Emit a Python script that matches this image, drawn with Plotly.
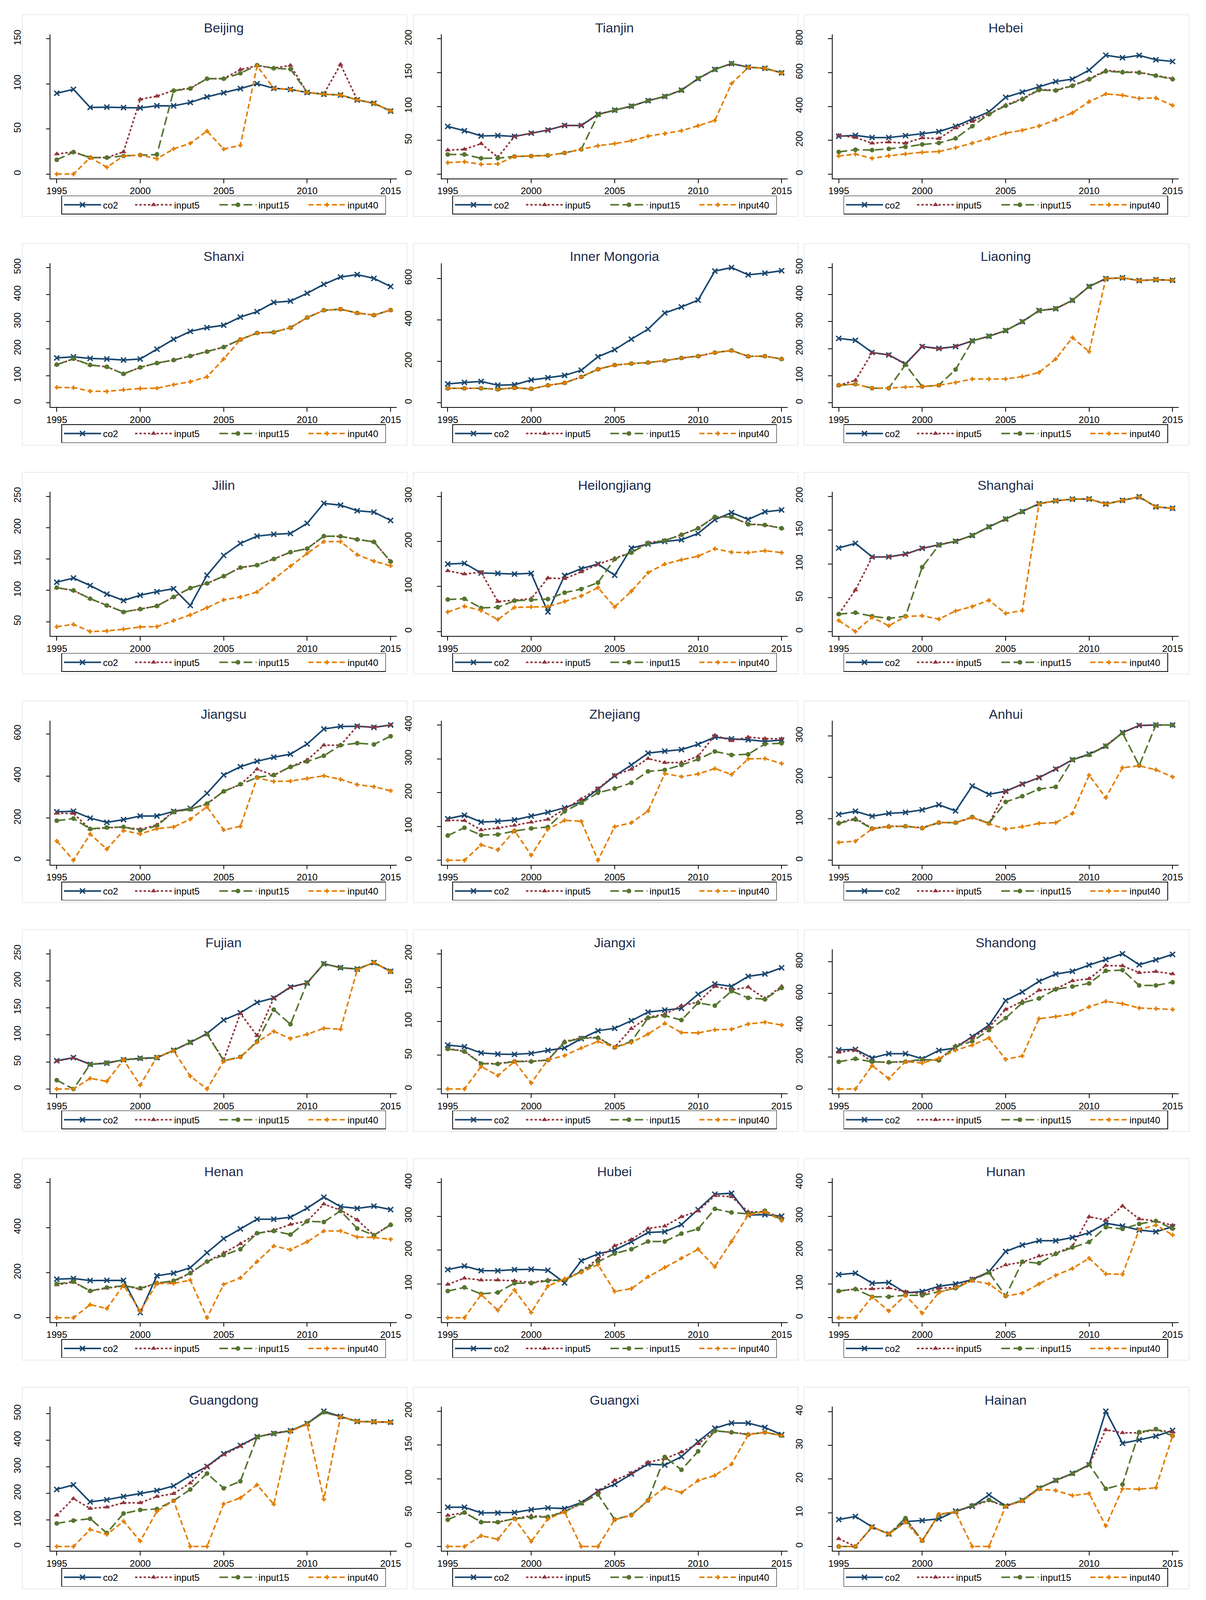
import plotly.graph_objects as go

YEARS = list(range(1995, 2016))
XTICKS = [1995, 2000, 2005, 2010, 2015]

PROVINCES = ["Beijing", "Tianjin", "Hebei", "Shanxi", "Inner Mongoria", "Liaoning",
             "Jilin", "Heilongjiang", "Shanghai", "Jiangsu", "Zhejiang", "Anhui",
             "Fujian", "Jiangxi", "Shandong", "Henan", "Hubei", "Hunan",
             "Guangdong", "Guangxi", "Hainan"]

YTICKS = {
    "Beijing": [0, 50, 100, 150], "Tianjin": [0, 50, 100, 150, 200],
    "Hebei": [0, 200, 400, 600, 800], "Shanxi": [0, 100, 200, 300, 400, 500],
    "Inner Mongoria": [0, 200, 400, 600], "Liaoning": [0, 100, 200, 300, 400, 500],
    "Jilin": [50, 100, 150, 200, 250], "Heilongjiang": [0, 100, 200, 300],
    "Shanghai": [0, 50, 100, 150, 200], "Jiangsu": [0, 200, 400, 600],
    "Zhejiang": [0, 100, 200, 300, 400], "Anhui": [0, 100, 200, 300],
    "Fujian": [0, 50, 100, 150, 200, 250], "Jiangxi": [0, 50, 100, 150, 200],
    "Shandong": [0, 200, 400, 600, 800], "Henan": [0, 200, 400, 600],
    "Hubei": [0, 100, 200, 300, 400], "Hunan": [0, 100, 200, 300, 400],
    "Guangdong": [0, 100, 200, 300, 400, 500], "Guangxi": [0, 50, 100, 150, 200],
    "Hainan": [0, 10, 20, 30, 40],
}

CO2 = {
    "Beijing": [89.6, 94.0, 73.9, 74.2, 73.7, 73.4, 75.8, 75.6, 79.4, 85.6, 90.2, 94.8, 100.2, 95.1, 93.9, 90.5, 88.5, 87.7, 82.3, 78.5, 69.8],
    "Tianjin": [70.4, 64.1, 56.4, 56.9, 55.6, 60.5, 65.1, 71.9, 71.9, 88.4, 94.5, 100.4, 108.5, 114.8, 124.1, 141.2, 154.8, 163.4, 158.1, 156.4, 149.7],
    "Hebei": [224, 229, 216, 216, 227, 238, 251, 283, 326, 368, 454, 485, 517, 547, 562, 615, 703, 688, 702, 676, 666],
    "Shanxi": [166, 170, 164, 162, 158, 162, 198, 235, 264, 278, 287, 317, 337, 371, 376, 405, 438, 465, 474, 460, 430],
    "Inner Mongoria": [91, 98, 103, 85, 87, 110, 121, 132, 157, 222, 256, 307, 355, 433, 462, 495, 635, 652, 617, 625, 637],
    "Liaoning": [238, 231, 186, 177, 144, 208, 201, 208, 229, 246, 267, 300, 341, 348, 379, 430, 459, 462, 452, 455, 453],
    "Jilin": [113.0, 119.6, 107.7, 94.0, 83.8, 92.2, 97.9, 102.7, 75.8, 124.1, 155.7, 175.0, 186.4, 189.4, 190.7, 206.9, 238.8, 235.9, 227.0, 224.7, 211.5],
    "Heilongjiang": [149.7, 151.3, 130.0, 129.1, 127.5, 129.1, 43.5, 124.3, 139.5, 149.7, 125.0, 185.2, 194.1, 199.8, 203.6, 217.6, 248.0, 263.9, 248.7, 265.5, 269.6],
    "Shanghai": [123.5, 130.4, 110.4, 110.4, 114.6, 123.0, 128.3, 133.6, 142.1, 154.8, 166.4, 177.4, 189.0, 193.4, 195.8, 196.0, 188.6, 193.9, 199.2, 184.4, 182.2],
    "Jiangsu": [230, 233, 200, 180, 193, 210, 210, 232, 246, 318, 405, 444, 470, 489, 504, 552, 623, 635, 636, 631, 642],
    "Zhejiang": [122.8, 133.3, 113.1, 115.2, 119.4, 130.8, 141.8, 155.3, 173.0, 210.1, 249.4, 281.9, 316.9, 322.8, 327.4, 343.0, 364.1, 359.1, 356.5, 351.5, 355.7],
    "Anhui": [110.7, 118.3, 106.2, 113.1, 115.5, 121.7, 133.8, 119.0, 179.3, 159.0, 166.6, 183.8, 199.3, 220.0, 242.4, 256.2, 275.2, 307.9, 325.2, 326.2, 326.2],
    "Fujian": [52.2, 58.0, 45.6, 47.7, 54.0, 56.7, 58.0, 71.5, 86.3, 102.5, 127.6, 140.9, 160.0, 168.4, 188.6, 196.0, 231.5, 224.3, 221.7, 233.6, 217.7],
    "Jiangxi": [65.0, 62.4, 53.3, 51.6, 51.2, 52.7, 57.1, 60.7, 74.5, 86.2, 89.8, 101.0, 113.7, 116.8, 119.4, 140.1, 155.3, 151.7, 166.6, 170.2, 179.3],
    "Shandong": [246, 249, 195, 222, 222, 190, 242, 258, 330, 401, 556, 610, 677, 722, 740, 779, 814, 850, 781, 812, 846],
    "Henan": [171, 174, 165, 166, 166, 23, 186, 198, 222, 289, 351, 394, 437, 437, 446, 486, 535, 493, 485, 495, 480],
    "Hubei": [142.3, 152.9, 139.4, 139.0, 142.3, 143.2, 140.2, 103.1, 168.5, 188.8, 200.2, 224.7, 252.2, 254.3, 275.4, 319.7, 365.4, 368.3, 303.7, 304.9, 300.7],
    "Hunan": [127.6, 131.8, 102.2, 104.3, 73.5, 77.7, 92.9, 100.1, 112.8, 136.0, 196.0, 215.0, 227.7, 227.7, 237.4, 251.3, 279.6, 271.2, 259.3, 254.3, 269.1],
    "Guangdong": [214.8, 231.9, 167.9, 175.9, 188.2, 199.9, 210.6, 228.1, 267.1, 301.2, 349.1, 380.1, 413.1, 425.4, 436.0, 462.7, 509.1, 489.3, 470.7, 469.6, 468.0],
    "Guangxi": [58.0, 58.0, 49.7, 49.7, 50.2, 54.4, 57.1, 56.1, 64.9, 81.8, 91.9, 107.1, 121.8, 120.4, 132.8, 155.1, 174.9, 182.5, 182.5, 176.0, 165.4],
    "Hainan": [8.0, 8.9, 5.8, 3.7, 7.4, 7.7, 8.2, 10.5, 11.9, 15.3, 12.0, 13.7, 17.3, 19.6, 21.7, 24.2, 40.1, 30.6, 31.6, 32.7, 34.4],
}

INPUT5 = {
    "Beijing": [22.2, 24.6, 18.4, 18.4, 24.6, 82.9, 86.4, 92.8, 95.3, 105.8, 105.9, 115.9, 120.2, 117.6, 120.5, 90.5, 88.9, 121.6, 82.3, 78.5, 70.2],
    "Tianjin": [35.5, 36.6, 45.0, 24.9, 55.6, 60.5, 65.1, 71.9, 71.9, 88.4, 94.5, 100.4, 108.5, 114.8, 124.1, 141.2, 154.8, 163.4, 158.1, 156.4, 149.7],
    "Hebei": [229, 216, 183, 189, 183, 214, 210, 273, 311, 356, 408, 446, 501, 496, 524, 563, 613, 605, 602, 583, 565],
    "Shanxi": [141, 162, 140, 133, 107, 131, 147, 158, 173, 189, 206, 234, 258, 261, 278, 315, 342, 346, 332, 324, 343],
    "Inner Mongoria": [70, 70, 70, 65, 72, 67, 84, 96, 125, 162, 182, 189, 194, 203, 216, 225, 242, 252, 224, 225, 211],
    "Liaoning": [65, 83, 185, 177, 142, 208, 199, 208, 229, 246, 267, 300, 341, 348, 379, 430, 459, 462, 452, 455, 453],
    "Jilin": [104.3, 99.8, 86.7, 75.8, 65.5, 70.1, 75.1, 89.5, 103.6, 111.1, 122.6, 136.3, 140.2, 150.0, 160.9, 166.6, 186.4, 186.2, 181.2, 177.3, 145.9],
    "Heilongjiang": [134.8, 127.5, 131.6, 66.6, 69.5, 72.9, 118.6, 117.3, 132.3, 149.1, 162.4, 175.7, 197.3, 202.0, 214.7, 229.0, 254.4, 254.4, 238.5, 236.3, 229.6],
    "Shanghai": [25.8, 61.3, 109.9, 110.4, 114.0, 123.0, 128.3, 133.6, 142.1, 154.8, 166.4, 177.4, 189.0, 193.4, 195.8, 196.0, 188.6, 193.9, 199.2, 184.4, 182.2],
    "Jiangsu": [223, 222, 148, 154, 158, 147, 168, 232, 243, 267, 328, 359, 432, 403, 445, 476, 546, 546, 637, 631, 642],
    "Zhejiang": [118.6, 117.3, 89.9, 95.4, 103.4, 112.7, 120.7, 151.1, 180.6, 212.2, 251.5, 269.2, 300.8, 289.0, 289.0, 308.0, 369.6, 353.6, 364.1, 359.9, 359.1],
    "Anhui": [90.7, 101.0, 76.9, 82.1, 82.1, 78.6, 91.4, 90.7, 102.8, 89.0, 165.9, 183.8, 199.3, 220.0, 242.4, 254.5, 276.9, 307.9, 325.2, 326.2, 326.2],
    "Fujian": [51.4, 57.5, 45.6, 48.7, 54.0, 56.1, 57.5, 71.5, 86.3, 101.7, 53.5, 139.6, 98.5, 167.9, 187.8, 196.0, 231.5, 224.3, 221.7, 233.6, 217.7],
    "Jiangxi": [59.7, 55.9, 37.9, 37.5, 41.1, 41.1, 42.8, 70.3, 75.6, 76.2, 61.8, 89.3, 106.2, 110.5, 123.2, 128.5, 151.7, 146.5, 150.7, 133.8, 151.7],
    "Shandong": [231, 244, 172, 168, 172, 183, 183, 271, 321, 388, 500, 551, 621, 630, 680, 693, 776, 774, 731, 738, 723],
    "Henan": [146, 158, 119, 131, 141, 128, 155, 160, 198, 249, 287, 328, 375, 388, 414, 429, 504, 477, 434, 366, 414],
    "Hubei": [98.8, 117.0, 111.5, 111.5, 109.4, 104.3, 111.5, 111.5, 138.1, 174.0, 212.9, 231.0, 264.0, 271.2, 298.6, 315.5, 361.1, 357.8, 313.4, 313.4, 296.5],
    "Hunan": [79.0, 85.3, 85.3, 88.3, 76.9, 70.5, 87.4, 89.5, 114.9, 134.7, 156.3, 164.3, 182.5, 190.9, 211.2, 298.6, 288.9, 330.3, 292.3, 286.0, 273.3],
    "Guangdong": [117.8, 180.2, 142.9, 148.2, 164.2, 164.2, 188.2, 198.8, 238.8, 300.1, 345.4, 377.4, 412.0, 427.0, 436.0, 461.6, 506.4, 488.3, 470.7, 469.1, 468.0],
    "Guangxi": [45.9, 50.2, 36.5, 36.0, 41.1, 45.3, 43.8, 52.3, 62.8, 81.8, 97.6, 108.5, 124.6, 129.8, 139.7, 151.9, 171.3, 168.8, 166.1, 168.8, 164.0],
    "Hainan": [2.3, 0.0, 5.8, 3.7, 8.1, 1.7, 9.5, 10.3, 12.0, 13.6, 11.9, 13.6, 17.3, 19.6, 21.5, 24.2, 34.6, 33.7, 33.7, 34.6, 33.9],
}

INPUT15 = {
    "Beijing": [15.9, 24.3, 18.2, 18.2, 20.1, 21.1, 21.7, 92.4, 94.8, 105.8, 105.8, 111.8, 120.7, 117.3, 116.4, 90.5, 88.5, 87.7, 82.3, 78.5, 69.9],
    "Tianjin": [29.0, 29.0, 23.3, 23.5, 26.0, 26.6, 27.5, 31.3, 36.6, 87.7, 94.5, 100.4, 108.5, 114.8, 124.1, 141.2, 154.8, 163.4, 158.1, 156.4, 149.7],
    "Hebei": [131, 144, 142, 149, 161, 175, 184, 211, 283, 354, 404, 442, 497, 494, 522, 560, 608, 602, 600, 582, 561],
    "Shanxi": [141, 163, 140, 133, 107, 131, 147, 158, 173, 189, 206, 234, 258, 261, 278, 315, 342, 346, 332, 324, 343],
    "Inner Mongoria": [70, 70, 70, 65, 72, 67, 84, 96, 125, 162, 182, 189, 194, 203, 216, 225, 242, 252, 224, 225, 211],
    "Liaoning": [65, 69, 54, 54, 141, 60, 65, 123, 229, 246, 267, 300, 341, 348, 379, 430, 459, 462, 452, 455, 453],
    "Jilin": [104.3, 99.8, 86.7, 75.8, 65.5, 70.1, 75.1, 89.5, 103.6, 111.1, 122.6, 136.3, 140.2, 150.0, 160.9, 166.6, 186.4, 186.2, 181.2, 177.3, 145.9],
    "Heilongjiang": [71.0, 72.6, 52.3, 53.9, 68.2, 70.4, 72.0, 86.3, 94.2, 108.5, 160.8, 175.1, 195.7, 201.7, 214.7, 229.0, 254.4, 254.4, 237.9, 236.3, 229.0],
    "Shanghai": [25.8, 27.9, 22.6, 19.5, 22.6, 95.1, 127.7, 133.6, 142.1, 154.8, 166.4, 177.4, 189.0, 193.4, 195.8, 196.0, 188.6, 193.9, 199.2, 184.4, 182.2],
    "Jiangsu": [188, 198, 149, 156, 158, 141, 164, 229, 242, 269, 327, 361, 393, 405, 443, 469, 496, 546, 556, 550, 589],
    "Zhejiang": [73.0, 96.2, 74.3, 75.9, 86.5, 94.1, 98.3, 144.7, 170.0, 199.6, 212.2, 229.1, 262.9, 267.1, 281.9, 298.7, 321.9, 311.4, 313.5, 343.9, 346.0],
    "Anhui": [89.0, 98.6, 76.2, 81.0, 82.1, 77.6, 90.7, 90.7, 104.5, 89.0, 140.7, 154.5, 171.7, 176.9, 242.4, 254.5, 275.2, 307.2, 228.6, 326.2, 326.2],
    "Fujian": [16.4, 0.0, 45.6, 48.2, 54.0, 56.7, 57.5, 71.5, 86.3, 101.7, 52.2, 59.3, 87.9, 146.7, 119.7, 196.5, 231.5, 224.3, 221.7, 233.6, 217.7],
    "Jiangxi": [59.3, 55.4, 37.5, 37.0, 40.6, 40.6, 42.8, 69.2, 75.1, 75.6, 61.4, 70.3, 105.2, 108.4, 102.0, 127.4, 123.2, 144.8, 134.8, 132.7, 149.6],
    "Shandong": [171, 190, 171, 168, 172, 186, 180, 267, 300, 370, 446, 542, 569, 626, 644, 664, 743, 747, 651, 651, 671],
    "Henan": [150, 160, 119, 134, 142, 131, 153, 164, 198, 249, 278, 304, 375, 385, 369, 428, 425, 474, 396, 366, 412],
    "Hubei": [79.0, 89.6, 70.5, 74.8, 102.2, 102.2, 109.4, 111.5, 136.9, 165.6, 190.1, 202.7, 225.6, 225.6, 248.8, 262.7, 321.9, 311.3, 307.1, 316.4, 290.2],
    "Hunan": [79.0, 84.5, 62.1, 62.1, 66.3, 66.3, 76.9, 87.4, 110.7, 133.9, 64.2, 165.6, 161.3, 188.8, 207.8, 223.9, 267.8, 262.7, 277.5, 286.0, 263.6],
    "Guangdong": [86.9, 97.5, 104.5, 50.6, 124.2, 137.5, 141.3, 172.2, 214.8, 274.5, 219.1, 245.7, 412.0, 425.4, 435.0, 462.7, 505.3, 487.7, 470.7, 469.1, 467.0],
    "Guangxi": [39.6, 50.2, 36.0, 36.0, 41.1, 43.2, 43.8, 51.2, 63.9, 76.9, 40.0, 46.6, 68.1, 132.4, 113.4, 140.8, 170.9, 168.8, 165.4, 168.8, 164.0],
    "Hainan": [0.0, 0.0, 5.8, 3.7, 8.4, 1.7, 9.4, 10.3, 12.2, 13.8, 11.9, 13.7, 17.3, 19.6, 21.6, 24.3, 17.1, 18.4, 33.9, 34.8, 32.8],
}

INPUT40 = {
    "Beijing": [0.0, 0.0, 18.2, 7.6, 20.1, 21.1, 17.0, 27.9, 34.1, 47.7, 27.7, 31.9, 119.9, 95.1, 93.9, 90.5, 88.5, 87.7, 82.3, 78.5, 69.8],
    "Tianjin": [16.9, 18.2, 14.4, 15.0, 26.0, 26.6, 27.5, 31.3, 36.6, 41.9, 45.0, 49.3, 56.0, 59.8, 64.1, 71.5, 79.3, 133.8, 157.7, 156.4, 149.3],
    "Hebei": [107, 118, 93, 108, 119, 129, 133, 156, 183, 211, 242, 259, 284, 321, 362, 428, 474, 466, 448, 450, 406],
    "Shanxi": [57, 56, 43, 42, 48, 53, 54, 67, 78, 96, 162, 234, 258, 261, 278, 315, 342, 346, 332, 324, 343],
    "Inner Mongoria": [70, 70, 70, 65, 72, 67, 84, 96, 125, 162, 182, 189, 194, 203, 216, 225, 242, 252, 224, 225, 211],
    "Liaoning": [65, 69, 54, 54, 58, 60, 65, 75, 88, 88, 88, 97, 112, 162, 241, 189, 459, 462, 452, 455, 453],
    "Jilin": [42.0, 45.7, 34.3, 35.2, 38.1, 41.6, 42.2, 51.8, 60.9, 72.3, 84.8, 89.4, 97.4, 117.9, 138.5, 159.0, 177.7, 177.7, 156.8, 146.5, 139.2],
    "Heilongjiang": [43.5, 56.1, 46.6, 26.6, 53.6, 54.6, 55.2, 66.6, 79.0, 97.4, 54.6, 89.4, 130.7, 149.7, 159.2, 167.1, 183.6, 176.0, 175.1, 179.2, 175.1],
    "Shanghai": [16.3, 0.0, 21.1, 8.5, 22.2, 23.3, 18.4, 30.4, 37.0, 46.3, 26.8, 31.1, 188.6, 193.4, 195.8, 196.0, 188.6, 193.9, 199.2, 184.4, 182.2],
    "Jiangsu": [91, 0, 124, 53, 141, 125, 150, 158, 195, 254, 144, 161, 391, 374, 376, 388, 401, 384, 359, 349, 330],
    "Zhejiang": [0.0, 0.0, 45.6, 30.8, 87.8, 14.8, 92.0, 118.1, 115.2, 0.0, 99.2, 111.0, 145.6, 256.5, 247.3, 255.3, 271.3, 253.6, 300.0, 300.8, 286.1],
    "Anhui": [43.1, 45.9, 75.9, 81.0, 82.1, 77.6, 91.4, 90.7, 103.4, 87.9, 75.2, 81.0, 89.0, 90.7, 113.1, 205.2, 151.0, 223.4, 227.9, 218.3, 201.0],
    "Fujian": [0.0, 0.0, 19.6, 14.3, 54.0, 7.2, 59.3, 70.7, 23.8, 0.0, 51.4, 58.8, 86.6, 106.5, 93.2, 101.2, 112.3, 110.4, 220.3, 234.4, 216.4],
    "Jiangxi": [0.0, 0.0, 33.2, 19.9, 40.6, 8.9, 43.2, 49.5, 60.7, 70.3, 61.8, 68.6, 81.3, 97.1, 83.4, 83.0, 87.6, 88.3, 96.1, 98.8, 94.6],
    "Shandong": [0, 0, 147, 66, 172, 163, 192, 244, 276, 321, 186, 208, 442, 455, 471, 516, 551, 536, 509, 505, 500],
    "Henan": [0, 0, 58, 41, 144, 30, 152, 152, 167, 0, 148, 177, 249, 318, 302, 337, 385, 385, 358, 356, 348],
    "Hubei": [0.0, 0.0, 68.4, 22.0, 81.9, 15.6, 93.8, 114.9, 133.9, 157.1, 77.7, 86.2, 121.2, 148.7, 176.1, 202.7, 150.8, 225.6, 304.1, 313.4, 287.2],
    "Hunan": [0.0, 0.0, 62.1, 19.9, 66.3, 13.5, 74.8, 89.5, 109.4, 100.1, 64.2, 72.7, 100.1, 125.4, 145.7, 176.1, 129.7, 128.4, 260.6, 274.1, 245.0],
    "Guangdong": [0.0, 0.0, 64.0, 45.3, 94.9, 20.3, 132.2, 172.2, 0.0, 0.0, 160.4, 182.8, 231.9, 158.8, 433.4, 460.0, 177.5, 488.3, 470.7, 469.1, 468.0],
    "Guangxi": [0.0, 0.0, 15.8, 10.7, 41.1, 7.4, 40.7, 51.2, 0.0, 0.0, 39.6, 45.9, 68.5, 87.0, 79.7, 97.6, 105.0, 121.8, 165.4, 168.8, 164.0],
    "Hainan": [0.0, 0.0, 5.8, 3.7, 7.2, 1.7, 9.6, 10.2, 0.0, 0.0, 11.9, 13.5, 17.0, 16.6, 15.1, 15.7, 6.1, 17.1, 17.0, 17.4, 32.8],
}

# name, data, colour, dash, marker symbol, marker size, marker line, legend entry width (px)
SERIES = [
    ("co2", CO2, "#1a476f", "solid", "x-thin", 13, 3.5, 72),
    ("input5", INPUT5, "#90353b", "6px,5px", "triangle-up", 13, 0, 106),
    ("input15", INPUT15, "#55752f", "22px,9px", "circle", 12, 0, 118),
    ("input40", INPUT40, "#e37e00", "13px,7px", "cross-thin", 8, 4, 92),
]

W, H = 3088, 5687
FONT = "Liberation Sans, Arial, sans-serif"
TITLE_COLOR = "#1c2b4d"

PLOT_LEFT0, COL_PITCH, PLOT_W = 119.3, 1008.3, 893.0
AXIS_Y0, ROW_PITCH, PLOT_H = 619.5, 815.4, 513.5
PANEL_LEFT0, PANEL_TOP0, PANEL_W, PANEL_H = 46.5, 36.0, 992.0, 719.0
PADX, PADY = 16.0, 15.7
LEGEND_GAP = 61.0


def fx(px):
    return px / W


def fy(py):
    return 1 - py / H


fig = go.Figure()
layout = {}
shapes = []
annotations = []

for k, prov in enumerate(PROVINCES):
    r, c = divmod(k, 3)
    left = PLOT_LEFT0 + c * COL_PITCH
    right = left + PLOT_W
    bottom = AXIS_Y0 + r * ROW_PITCH
    top = bottom - PLOT_H
    cx = (left + right) / 2
    sfx = "" if k == 0 else str(k + 1)
    xa, ya, leg = "x" + sfx, "y" + sfx, "legend" + sfx

    for name, data, color, dash, symbol, size, mlw, lw in SERIES:
        fig.add_trace(go.Scatter(
            x=YEARS, y=data[prov], mode="lines+markers", name=name,
            xaxis=xa, yaxis=ya, legend=leg, legendwidth=lw,
            line=dict(color=color, width=4, dash=dash),
            marker=dict(symbol=symbol, size=size, color=color,
                        line=dict(color=color, width=mlw)),
        ))

    vals = CO2[prov] + INPUT5[prov] + INPUT15[prov] + INPUT40[prov]
    lo = min(min(vals), YTICKS[prov][0])
    hi = max(max(vals), YTICKS[prov][-1])
    unit = (PLOT_H - 2 * PADY) / (hi - lo)
    xunit = (PLOT_W - 2 * PADX) / 20.0

    axis_common = dict(showgrid=False, zeroline=False, showline=True,
                       linecolor="black", linewidth=1.5, ticks="outside",
                       ticklen=10, tickwidth=1.5, tickcolor="black",
                       tickfont=dict(family=FONT, size=24, color="black"),
                       fixedrange=True)
    layout["xaxis" + sfx] = dict(
        axis_common, domain=[fx(left), fx(right)], anchor=ya,
        range=[1995 - PADX / xunit, 2015 + PADX / xunit],
        tickmode="array", tickvals=XTICKS, ticklabelstandoff=0)
    layout["yaxis" + sfx] = dict(
        axis_common, domain=[fy(bottom), fy(top)], anchor=xa,
        range=[lo - PADY / unit, hi + PADY / unit],
        tickmode="array", tickvals=YTICKS[prov], tickangle=-90,
        ticklabelstandoff=55)

    layout[leg] = dict(
        x=fx(cx), y=fy(bottom + LEGEND_GAP), xanchor="center", yanchor="top",
        orientation="h", bordercolor="black", borderwidth=1.5,
        bgcolor="white", font=dict(family=FONT, size=24, color="black"),
        itemwidth=95, traceorder="normal", itemclick=False,
        itemdoubleclick=False)

    pl = PANEL_LEFT0 + c * COL_PITCH
    pt = PANEL_TOP0 + r * ROW_PITCH
    shapes.append(dict(type="rect", xref="paper", yref="paper",
                       x0=fx(pl), x1=fx(pl + PANEL_W), y0=fy(pt + PANEL_H), y1=fy(pt),
                       line=dict(color="#e4ecef", width=2), layer="below"))
    annotations.append(dict(text=prov, xref="paper", yref="paper",
                            x=fx(cx), y=fy(top - 24), xanchor="center",
                            yanchor="middle", showarrow=False,
                            font=dict(family=FONT, size=34, color=TITLE_COLOR)))

fig.update_layout(
    width=W, height=H, margin=dict(l=0, r=0, t=0, b=0, pad=0),
    paper_bgcolor="white", plot_bgcolor="white",
    shapes=shapes, annotations=annotations, showlegend=True,
    **layout,
)

# Remove the default page margin; if the browser viewport is shorter than the
# figure, fit the figure's height to it so that every panel stays on screen.
POST = """
document.documentElement.style.margin = '0';
document.body.style.margin = '0';
document.body.style.overflow = 'hidden';
var gd = document.getElementById('{plot_id}');
var vh = window.innerHeight || document.documentElement.clientHeight || 0;
if (vh > 0 && vh < 5600) {
    var nh = (vh >= 3000) ? vh : 4096;
    gd.style.height = nh + 'px';
    Plotly.relayout(gd, {height: nh});
}
"""

fig.write_html("out.html", post_script=POST,
               config={"displayModeBar": False, "responsive": False})
